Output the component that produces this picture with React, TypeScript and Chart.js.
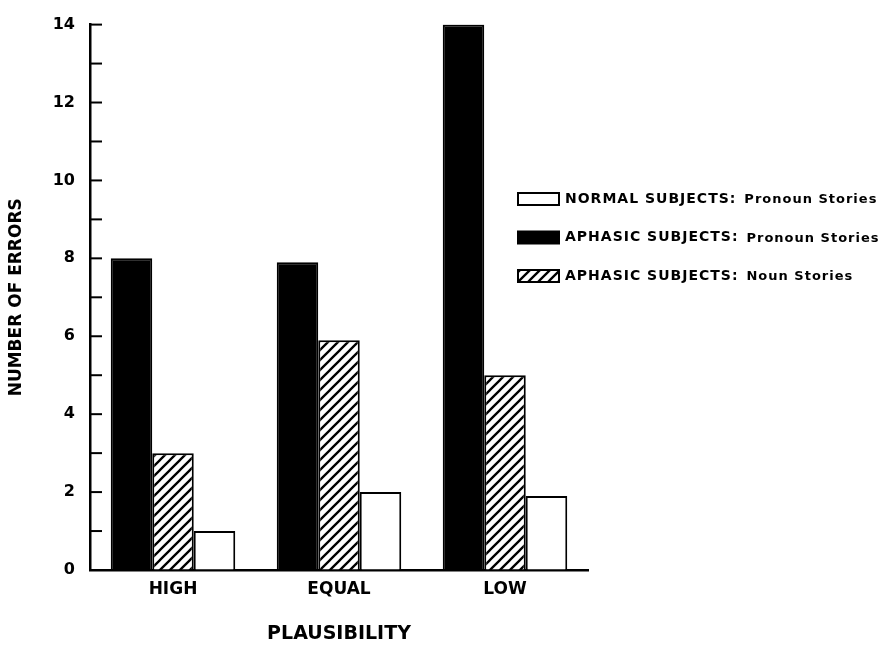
import { useEffect, useRef } from 'react';
import { Chart, registerables } from 'chart.js';

Chart.register(...registerables);

const categories = ['HIGH', 'EQUAL', 'LOW'];
const aphasicPronoun = [8.0, 7.9, 14.0];
const aphasicNoun = [3.0, 5.9, 5.0];
const normalPronoun = [1.0, 2.0, 1.9];
const seriesLabels = [
  'APHASIC SUBJECTS: Pronoun Stories',
  'APHASIC SUBJECTS: Noun Stories',
  'NORMAL SUBJECTS: Pronoun Stories',
];
const legendOrder = [2, 0, 1];
const yMin = 0;
const yMax = 14;
const yStep = 1;
const yLabelEvery = 2;
const xTitle = 'PLAUSIBILITY';
const yTitle = 'NUMBER OF ERRORS';

const FAMILY = '"DejaVu Sans", "Liberation Sans", sans-serif';

function makeHatch(ctx: CanvasRenderingContext2D): CanvasPattern | string {
  const s = 10;
  const c = document.createElement('canvas');
  c.width = s;
  c.height = s;
  const g = c.getContext('2d');
  if (!g) return '#888';
  g.fillStyle = '#fff';
  g.fillRect(0, 0, s, s);
  g.strokeStyle = '#000';
  g.lineWidth = 2.3;
  g.beginPath();
  g.moveTo(0, s);
  g.lineTo(s, 0);
  g.moveTo(-s / 2, s / 2);
  g.lineTo(s / 2, -s / 2);
  g.moveTo(s / 2, s * 1.5);
  g.lineTo(s * 1.5, s / 2);
  g.stroke();
  return ctx.createPattern(c, 'repeat') || '#888';
}

const decorPlugin = {
  id: 'decor',
  afterDraw(chart: any) {
    const { ctx, chartArea, scales } = chart;
    const y = scales.y;
    ctx.save();
    // inward ticks on the y axis
    ctx.strokeStyle = '#000';
    ctx.lineWidth = 2;
    y.ticks.forEach((t: any) => {
      const py = y.getPixelForValue(t.value);
      ctx.beginPath();
      ctx.moveTo(chartArea.left, py);
      ctx.lineTo(chartArea.left + 12, py);
      ctx.stroke();
    });
    // legend
    const boxX = 518;
    const boxW = 41;
    const boxH = 12;
    const textX = 565;
    const rowY0 = 199;
    const rowStep = 38.5;
    legendOrder.forEach((di, i) => {
      const ds = chart.data.datasets[di];
      const cy = rowY0 + i * rowStep;
      ctx.fillStyle = ds.backgroundColor;
      ctx.fillRect(boxX, cy - boxH / 2, boxW, boxH);
      ctx.strokeStyle = '#000';
      ctx.lineWidth = 2;
      ctx.strokeRect(boxX, cy - boxH / 2, boxW, boxH);
      const label: string = ds.label;
      const idx = label.indexOf(':');
      const head = label.slice(0, idx + 1);
      const tail = label.slice(idx + 1).trim();
      ctx.fillStyle = '#000';
      ctx.textBaseline = 'middle';
      ctx.textAlign = 'left';
      ctx.font = `bold 14px ${FAMILY}`;
      (ctx as any).letterSpacing = '1px';
      ctx.fillText(head, textX, cy);
      const w = ctx.measureText(head).width;
      ctx.font = `bold 13px ${FAMILY}`;
      (ctx as any).letterSpacing = '1px';
      ctx.fillText(tail, textX + w + 8, cy + 1);
      (ctx as any).letterSpacing = '0px';
    });
    ctx.restore();
  },
};

export default function App() {
  const ref = useRef<HTMLCanvasElement>(null);

  useEffect(() => {
    const canvas = ref.current;
    if (!canvas) return;
    const ctx = canvas.getContext('2d');
    if (!ctx) return;
    const hatch = makeHatch(ctx);

    const chart = new Chart(canvas, {
      type: 'bar',
      data: {
        labels: categories,
        datasets: [
          {
            label: seriesLabels[0],
            data: aphasicPronoun,
            backgroundColor: '#000',
            borderColor: '#000',
            borderWidth: 2,
          },
          {
            label: seriesLabels[1],
            data: aphasicNoun,
            backgroundColor: hatch as any,
            borderColor: '#000',
            borderWidth: 2,
          },
          {
            label: seriesLabels[2],
            data: normalPronoun,
            backgroundColor: '#fff',
            borderColor: '#000',
            borderWidth: 2,
          },
        ],
      },
      options: {
        animation: false,
        responsive: true,
        maintainAspectRatio: false,
        layout: { padding: { left: 0, top: 20, right: 296, bottom: 0 } },
        datasets: {
          bar: { categoryPercentage: 0.75, barPercentage: 1.0 },
        },
        plugins: {
          legend: { display: false },
          tooltip: { enabled: false },
        },
        scales: {
          x: {
            type: 'category',
            grid: { display: true, drawOnChartArea: false, drawTicks: false },
            border: { display: true, color: '#000', width: 2.5 },
            ticks: {
              color: '#000',
              font: { family: FAMILY, size: 17, weight: 'bold' },
              padding: 9,
            },
            title: {
              display: true,
              text: xTitle,
              color: '#000',
              font: { family: FAMILY, size: 19, weight: 'bold' },
              padding: { top: 0, bottom: 10 },
            },
            afterFit(scale: any) {
              scale.height = 85;
            },
          },
          y: {
            min: yMin,
            max: yMax,
            grid: { display: true, drawOnChartArea: false, drawTicks: false },
            border: { display: true, color: '#000', width: 2.5 },
            ticks: {
              stepSize: yStep,
              autoSkip: false,
              color: '#000',
              padding: 15,
              font: { family: FAMILY, size: 16, weight: 'bold' },
              callback: (v: any) => (Number(v) % yLabelEvery === 0 ? String(v) : ''),
            },
            title: {
              display: true,
              text: yTitle,
              color: '#000',
              font: { family: FAMILY, size: 17, weight: 'bold' },
              padding: { top: 6, bottom: 0 },
            },
            afterFit(scale: any) {
              scale.width = 90;
            },
          },
        },
      },
      plugins: [decorPlugin],
    });

    return () => chart.destroy();
  }, []);

  return (
    <div
      style={{
        position: 'absolute',
        left: 0,
        top: 0,
        width: 884,
        height: 655,
        background: '#fff',
      }}
    >
      <canvas ref={ref} />
    </div>
  );
}
